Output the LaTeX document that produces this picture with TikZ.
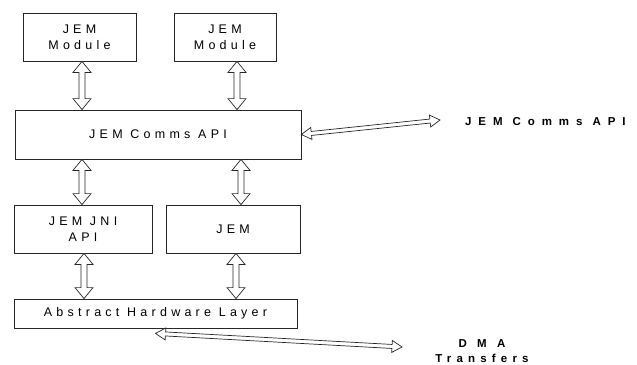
\documentclass[tikz,border=0pt]{standalone}
\usepackage{fontspec}
\setmainfont{Liberation Sans}[LetterSpace=34]
\usetikzlibrary{calc}
\tikzset{
 box/.style={draw=black!85, line width=0.8pt, inner sep=0pt, align=center, font=\fontsize{12.5}{16}\selectfont},
 hollow/.style={draw=black!85, line width=0.7pt, fill=white, line join=miter},
 lbl/.style={font=\fontsize{11.5}{15}\selectfont\bfseries\addfontfeature{LetterSpace=60}, inner sep=0pt, align=center}
}
\newcommand\harrow[5]{%
 \draw[hollow] let \p1=(#1), \p2=(#2), \n1={atan2(\y2-\y1,\x2-\x1)} in
 (\p1) -- ($(\p1)+(\n1:#3)+(\n1+90:#4)$) -- ($(\p1)+(\n1:#3)+(\n1+90:#5)$)
 -- ($(\p2)+(\n1+180:#3)+(\n1+90:#5)$) -- ($(\p2)+(\n1+180:#3)+(\n1+90:#4)$)
 -- (\p2) -- ($(\p2)+(\n1+180:#3)+(\n1-90:#4)$) -- ($(\p2)+(\n1+180:#3)+(\n1-90:#5)$)
 -- ($(\p1)+(\n1:#3)+(\n1-90:#5)$) -- ($(\p1)+(\n1:#3)+(\n1-90:#4)$) -- cycle;}
\begin{document}
\begin{tikzpicture}[x=1pt,y=-1pt]
\useasboundingbox (0,0) rectangle (637,364);
\node[box, minimum width=113pt, minimum height=48pt] (m1) at (79.5,37) {JEM\\Module};
\node[box, minimum width=102pt, minimum height=48pt] (m2) at (225,37) {JEM\\Module};
\node[box, minimum width=286pt, minimum height=49pt] (api) at (158,134.5) {JEM Comms API};
\node[box, minimum width=138pt, minimum height=48pt] (jni) at (83,229) {JEM JNI\\API};
\node[box, minimum width=134pt, minimum height=48pt] (jem) at (233,229) {JEM};
\node[box, minimum width=283pt, minimum height=29pt] (ahl) at (155.5,313.5) {Abstract Hardware Layer};
\coordinate (xa) at (82,0);
\coordinate (xb) at (237,0);
\coordinate (xc) at (241,0);
\coordinate (xd) at (236,0);
\coordinate (xe) at (84,0);
\coordinate (t1) at (440,120);
\coordinate (t2) at (402,347);
\harrow{xa |- m1.south}{xa |- api.north}{11pt}{9pt}{3pt}
\harrow{xb |- m2.south}{xb |- api.north}{11pt}{9pt}{3pt}
\harrow{xa |- api.south}{xa |- jni.north}{11pt}{9pt}{3pt}
\harrow{xc |- api.south}{xc |- jem.north}{11pt}{9pt}{3pt}
\harrow{xe |- jni.south}{xe |- ahl.north}{11pt}{9pt}{3pt}
\harrow{xd |- jem.south}{xd |- ahl.north}{11pt}{9pt}{3pt}
\harrow{api.east}{t1}{10pt}{6pt}{2pt}
\harrow{[yshift=-5pt]ahl.south}{t2}{10pt}{6pt}{2pt}
\node[lbl, anchor=west] (l1) at (465,122) {JEM Comms API};
\node[lbl] (l2) at (482,351) {{\addfontfeature{LetterSpace=90}DMA}\\{\addfontfeature{LetterSpace=45}Transfers}};
\end{tikzpicture}
\end{document}
